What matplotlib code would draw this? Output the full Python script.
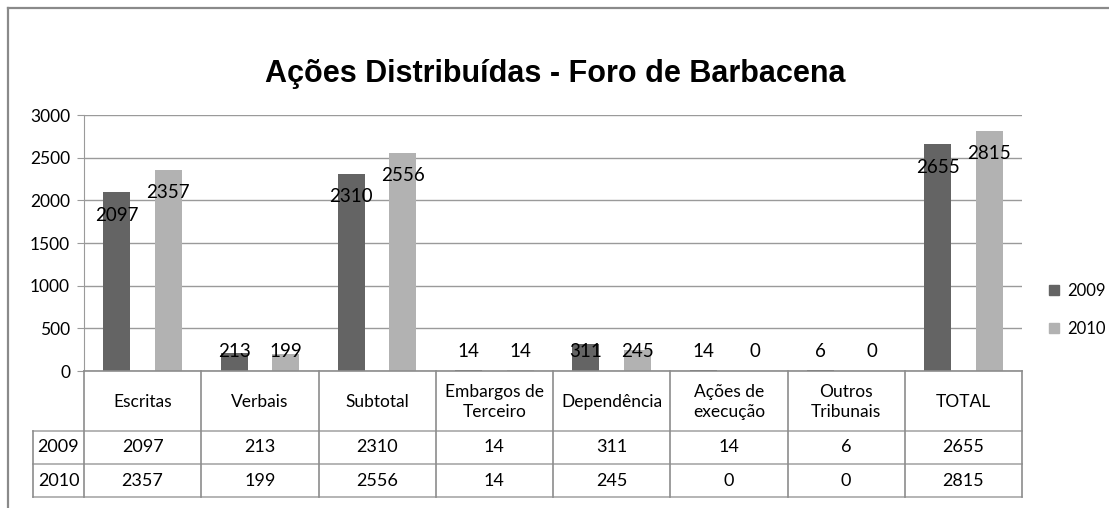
import matplotlib.pyplot as plt
from matplotlib.lines import Line2D

categories = ['Escritas', 'Verbais', 'Subtotal', 'Embargos de\nTerceiro',
              'Dependência', 'Ações de\nexecução', 'Outros\nTribunais', 'TOTAL']
series = ['2009', '2010']
v2009 = [2097, 213, 2310, 14, 311, 14, 6, 2655]
v2010 = [2357, 199, 2556, 14, 245, 0, 0, 2815]
yticks = [0, 500, 1000, 1500, 2000, 2500, 3000]

dark = '#646464'
light = '#b2b2b2'
grid = '#9a9a9a'
font = 'Lato'

W, H = 1109, 508
fig = plt.figure(figsize=(W / 100, H / 100), dpi=100)


def box(x0, y0, x1, y1):
    # pixel box (from top-left) -> figure rect
    return [x0 / W, 1 - y1 / H, (x1 - x0) / W, (y1 - y0) / H]


# chart area frame (only top and left are visible in the crop)
fig.add_artist(Line2D([8 / W, 8 / W], [0, 1 - 8 / H], color='#8a8a8a', lw=1.6))
fig.add_artist(Line2D([8 / W, 1], [1 - 8 / H, 1 - 8 / H], color='#8a8a8a', lw=1.6))

fig.text(555 / W, 1 - 74 / H, 'Ações Distribuídas - Foro de Barbacena',
         ha='center', va='center', fontsize=22, fontweight='bold',
         family='Liberation Sans')

ax = fig.add_axes(box(84, 115, 1022, 371))
n = len(categories)
x = [i + 0.5 for i in range(n)]
bw = 0.23
ax.bar([c - 0.22 for c in x], v2009, bw, color=dark, zorder=3)
ax.bar([c + 0.22 for c in x], v2010, bw, color=light, zorder=3)

for vals, off in ((v2009, -0.22), (v2010, 0.22)):
    for c, v in zip(x, vals):
        ax.text(c + off, max(v - 270, 225), str(v), ha='center', va='center',
                fontsize=13.5, family=font, zorder=4)

ax.set_xlim(0, n)
ax.set_ylim(0, 3000)
ax.set_yticks(yticks)
ax.set_xticks([])
ax.grid(axis='y', color=grid, lw=1)
ax.set_axisbelow(True)
for s in ('top', 'right', 'bottom'):
    ax.spines[s].set_visible(False)
ax.spines['left'].set_color(grid)
ax.tick_params(axis='y', length=5, color=grid, labelsize=12.5, pad=5)
for t in ax.get_yticklabels():
    t.set_family(font)

# data table under the plot
left_w = (84 - 33) / 117.25
tax = fig.add_axes(box(33, 371, 1022, 497))
tax.set_xlim(-left_w, n)
tax.set_ylim(126, 0)
tax.axis('off')
vcol = '#8c8c8c'
hcol = '#a8a8a8'
tax.plot([0, n], [0, 0], color=vcol, lw=1.2, clip_on=False)
for yy in (60, 93, 126):
    tax.plot([-left_w, n], [yy, yy], color=hcol, lw=1.2, clip_on=False)
for i in range(n + 1):
    tax.plot([i, i], [0, 126], color=vcol, lw=1.2, clip_on=False)
tax.plot([-left_w, -left_w], [60, 126], color=vcol, lw=1.2, clip_on=False)

for c, name in zip(x, categories):
    tax.text(c, 31, name, ha='center', va='center', fontsize=12.5,
             family=font, linespacing=1.35)
for row_y, name, vals in ((76.5, series[0], v2009), (109.5, series[1], v2010)):
    tax.text(-left_w / 2, row_y, name, ha='center', va='center',
             fontsize=13, family=font)
    for c, v in zip(x, vals):
        tax.text(c, row_y, str(v), ha='center', va='center',
                 fontsize=13, family=font)

handles = [Line2D([], [], marker='s', ls='none', color=dark, markersize=7),
           Line2D([], [], marker='s', ls='none', color=light, markersize=7)]
fig.legend(handles, series, loc='center left',
           bbox_to_anchor=(1031 / W, 1 - 310 / H), frameon=False,
           prop={'family': font, 'size': 12}, handletextpad=0.3,
           labelspacing=1.3, handlelength=1)

fig.savefig('out.png', dpi=100)
